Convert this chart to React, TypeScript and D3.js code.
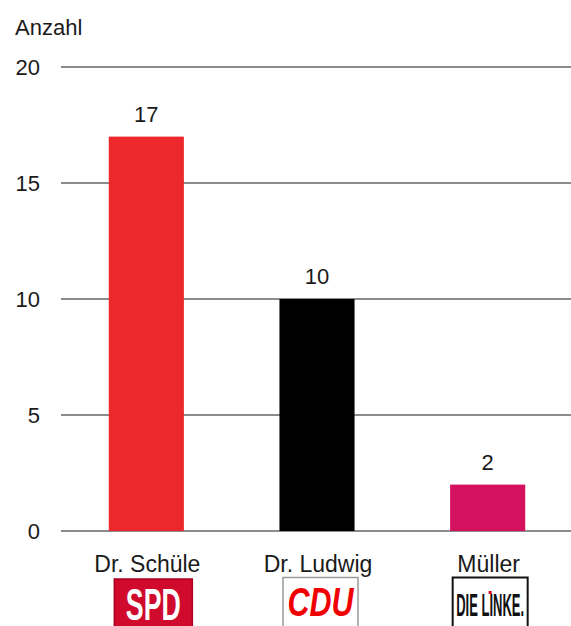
import React from "react";
import * as d3 from "d3";

const categories = ["Dr. Schüle", "Dr. Ludwig", "Müller"];
const values = [17, 10, 2];
const barColors = ["#EC282D", "#000000", "#D3115F"];
const parties = ["SPD", "CDU", "LINKE"];
const yTicks = [0, 5, 10, 15, 20];
const yAxisTitle = "Anzahl";

const W = 571;
const H = 626;
const FONT = "'Liberation Sans', Arial, Helvetica, sans-serif";

function Logo({ party, cx }: { party: string; cx: number }) {
  if (party === "SPD") {
    const x0 = cx - 32;
    return (
      <g>
        <rect x={x0} y={579} width={78} height={60} fill="#CF0A2C" stroke="#A8001C" strokeWidth={1.5} />
        <text
          x={x0 + 39}
          y={620}
          textAnchor="middle"
          fontFamily={FONT}
          fontWeight="bold"
          fontSize={44}
          fill="#fff"
          textLength={55}
          lengthAdjust="spacingAndGlyphs"
        >
          SPD
        </text>
      </g>
    );
  }
  if (party === "CDU") {
    const x0 = cx - 34;
    return (
      <g>
        <rect x={x0} y={577.5} width={75} height={60} fill="#fff" stroke="#9a9a9a" strokeWidth={1.5} />
        <text
          x={x0 + 37.5}
          y={616}
          textAnchor="middle"
          fontFamily={FONT}
          fontWeight="bold"
          fontStyle="italic"
          fontSize={40}
          fill="#F00000"
          textLength={66}
          lengthAdjust="spacingAndGlyphs"
        >
          CDU
        </text>
      </g>
    );
  }
  const x0 = cx - 35;
  return (
    <g>
      <rect x={x0} y={577.5} width={75} height={60} fill="#fff" stroke="#111" strokeWidth={2} />
      <text
        x={x0 + 37.5}
        y={616}
        textAnchor="middle"
        fontFamily={FONT}
        fontWeight="bold"
        fontSize={31}
        fill="#111"
        textLength={68}
        lengthAdjust="spacingAndGlyphs"
      >
        DIE LINKE.
      </text>
      <rect x={x0 + 36} y={591} width={3} height={3} fill="#E3001B" />
    </g>
  );
}

export default function App() {
  const x = d3.scaleBand<string>().domain(categories).range([61, 573]).paddingInner(0.56).paddingOuter(0.28);
  const y = d3.scaleLinear().domain([0, 20]).range([531, 67]);
  const bw = x.bandwidth();

  return (
    <svg
      width={W}
      height={H}
      style={{ position: "absolute", left: 0, top: 0, display: "block", background: "#fff" }}
    >
      <text x={15} y={35} fontFamily={FONT} fontSize={22} fill="#1a1a1a">
        {yAxisTitle}
      </text>
      {yTicks.map((t) => (
        <g key={t}>
          <line x1={61} x2={571} y1={y(t)} y2={y(t)} stroke="#8c8c8c" strokeWidth={2} />
          <text x={40} y={y(t) + 8} textAnchor="end" fontFamily={FONT} fontSize={22} fill="#1a1a1a">
            {t}
          </text>
        </g>
      ))}
      {categories.map((c, i) => {
        const bx = x(c)!;
        const cx = bx + bw / 2;
        return (
          <g key={c}>
            <rect x={bx} y={y(values[i])} width={bw} height={y(0) - y(values[i])} fill={barColors[i]} />
            <text x={cx} y={y(values[i]) - 15} textAnchor="middle" fontFamily={FONT} fontSize={22} fill="#1a1a1a">
              {values[i]}
            </text>
            <text x={cx + 1} y={572} textAnchor="middle" fontFamily={FONT} fontSize={23} fill="#1a1a1a">
              {c}
            </text>
            <Logo party={parties[i]} cx={cx} />
          </g>
        );
      })}
    </svg>
  );
}
